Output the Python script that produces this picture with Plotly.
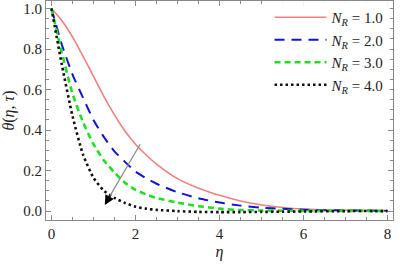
import plotly.graph_objects as go

eta = [0, 0.25, 0.5, 0.75, 1.0, 1.25, 1.5, 1.75, 2.0, 2.25, 2.5, 3.0, 3.5, 4.0, 4.5, 5.0, 5.5, 6.0, 7.0, 8.0]
theta_nr1 = [1.0, 0.94, 0.86, 0.765, 0.665, 0.565, 0.475, 0.395, 0.33, 0.278, 0.232, 0.16, 0.113, 0.078, 0.05, 0.03, 0.018, 0.01, 0.004, 0.002]
theta_nr2 = [1.0, 0.82, 0.675, 0.56, 0.45, 0.365, 0.295, 0.243, 0.195, 0.162, 0.135, 0.093, 0.063, 0.042, 0.027, 0.017, 0.011, 0.007, 0.003, 0.002]
theta_nr3 = [1.0, 0.78, 0.58, 0.44, 0.33, 0.25, 0.19, 0.14, 0.105, 0.083, 0.065, 0.042, 0.024, 0.012, 0.005, 0.003, 0.002, 0.001, 0.001, 0.001]
theta_nr4 = [1.0, 0.72, 0.47, 0.28, 0.165, 0.10, 0.065, 0.04, 0.022, 0.012, 0.006, 0.0, -0.004, -0.005, -0.005, -0.004, -0.003, -0.002, 0.0, 0.0]
labels = ["1.0", "2.0", "3.0", "4.0"]

styles = [
    dict(color="#F08080", width=1.6, dash="solid"),
    dict(color="#1414C8", width=2.0, dash="10px,7px"),
    dict(color="#22DD22", width=2.6, dash="6px,4px"),
    dict(color="#111111", width=2.6, dash="2.5px,3px"),
]

fig = go.Figure()
for ys, lab, st in zip([theta_nr1, theta_nr2, theta_nr3, theta_nr4], labels, styles):
    fig.add_trace(go.Scatter(
        x=eta, y=ys, mode="lines", line=dict(shape="spline", smoothing=0.6, **st),
        name=f"<i>N<sub>R</sub></i> = {lab}",
    ))

serif = "Liberation Serif"
axis_common = dict(
    showline=True, linecolor="#888888", linewidth=1.2, mirror="ticks",
    ticks="inside", ticklen=5, tickcolor="#888888", showgrid=False, zeroline=False,
    tickfont=dict(family=serif, size=15, color="#222222"), automargin=False,
)
fig.update_xaxes(range=[-0.13, 8.13], tickvals=[0, 2, 4, 6, 8], ticktext=["0", "2", "4", "6", "8"],
                 minor=dict(dtick=0.5, ticks="inside", ticklen=3, tickcolor="#888888"),
                 title=dict(text="<i>η</i>", font=dict(family=serif, size=16, color="#222222"), standoff=4),
                 **axis_common)
fig.update_yaxes(range=[-0.044, 1.037], tickvals=[0, 0.2, 0.4, 0.6, 0.8, 1.0],
                 ticktext=["0.0", "0.2", "0.4", "0.6", "0.8", "1.0"],
                 minor=dict(dtick=0.05, ticks="inside", ticklen=3, tickcolor="#888888"),
                 title=dict(text="<i>θ</i>(<i>η</i>, <i>τ</i>)", font=dict(family=serif, size=16, color="#222222"), standoff=4),
                 **axis_common)

# direction arrow
fig.add_shape(type="line", x0=2.11, y0=0.33, x1=1.38, y1=0.07, line=dict(color="#888888", width=1.2))
fig.add_annotation(x=1.27, y=0.03, ax=1.42, ay=0.085, xref="x", yref="y", axref="x", ayref="y",
                   text="", showarrow=True, arrowhead=2, arrowsize=1.6, arrowwidth=1.2, arrowcolor="#000000")

fig.update_layout(
    width=400, height=264,
    margin=dict(l=46, r=7, t=1, b=44),
    plot_bgcolor="white", paper_bgcolor="white",
    legend=dict(x=0.99, xanchor="right", y=1.0, yanchor="top", bgcolor="rgba(255,255,255,0.9)",
                font=dict(family=serif, size=15, color="#222222"), itemwidth=52,
                tracegroupgap=0),
)
fig.write_html("out.html", config={"displayModeBar": False},
               post_script="document.body.style.margin='0';document.body.style.overflow='hidden';")
